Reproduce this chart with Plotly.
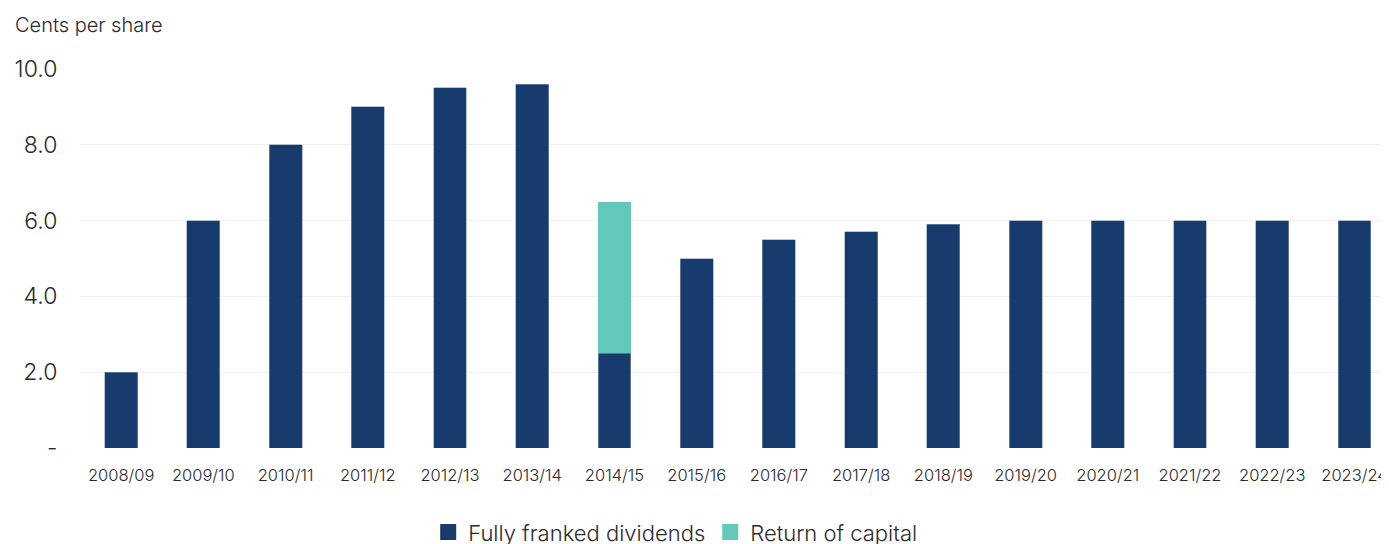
import plotly.graph_objects as go

categories = ["2008/09", "2009/10", "2010/11", "2011/12", "2012/13", "2013/14", "2014/15", "2015/16",
              "2016/17", "2017/18", "2018/19", "2019/20", "2020/21", "2021/22", "2022/23", "2023/24"]
fully_franked = [2.0, 6.0, 8.0, 9.0, 9.5, 9.6, 2.5, 5.0, 5.5, 5.7, 5.9, 6.0, 6.0, 6.0, 6.0, 6.0]
return_of_capital = [0, 0, 0, 0, 0, 0, 4.0, 0, 0, 0, 0, 0, 0, 0, 0, 0]
y_tickvals = [0, 2, 4, 6, 8, 10]
y_ticktext = ["-", "2.0", "4.0", "6.0", "8.0", "10.0"]
series_names = ["Fully franked dividends", "Return of capital"]
series_colors = ["#163b6c", "#64c7bc"]

FONT = "Inter"
TXT = "#2b2b2b"

fig = go.Figure()
fig.add_trace(go.Bar(x=categories, y=fully_franked, name=series_names[0], showlegend=False,
                     marker=dict(color=series_colors[0], line=dict(color="#8a9bb8", width=0.6))))
fig.add_trace(go.Bar(x=categories, y=return_of_capital, name=series_names[1], showlegend=False,
                     marker=dict(color=series_colors[1], line=dict(width=0))))
# legend entries with larger square swatches
for name, col in zip(series_names, series_colors):
    fig.add_trace(go.Scatter(x=[None], y=[None], mode="markers", name=name,
                             marker=dict(symbol="square", size=16, color=col)))

fig.update_layout(
    width=1381, height=536,
    barmode="stack", bargap=0.6,
    plot_bgcolor="white", paper_bgcolor="white",
    margin=dict(l=72, r=0, t=61, b=96, autoexpand=False),
    font=dict(family=FONT, color=TXT, weight=300),
    showlegend=True,
    legend=dict(orientation="h", x=0.266, xanchor="left", yref="container", y=0.022, yanchor="middle",
                font=dict(size=22, color=TXT, weight=300), traceorder="normal", itemwidth=30,
                itemsizing="trace"),
    annotations=[dict(text="Cents per share", xref="paper", yref="paper", x=-0.0512, y=1.116,
                      xanchor="left", yanchor="middle", showarrow=False,
                      font=dict(size=20, color=TXT, weight=300))],
)
fig.update_xaxes(range=[-0.5, 15.42], showgrid=False, showline=False, zeroline=False,
                 automargin=False,
                 ticks="outside", ticklen=12, tickcolor="white",
                 tickfont=dict(size=16.5, color=TXT, weight=300))
fig.update_yaxes(range=[0, 10], tickvals=y_tickvals, ticktext=y_ticktext,
                 automargin=False,
                 showgrid=True, gridcolor="#f0f0f0", gridwidth=1, zeroline=False,
                 showline=False, ticks="outside", ticklen=17, tickcolor="white",
                 tickfont=dict(size=23, color=TXT, weight=300))

fig.write_html("out.html")
